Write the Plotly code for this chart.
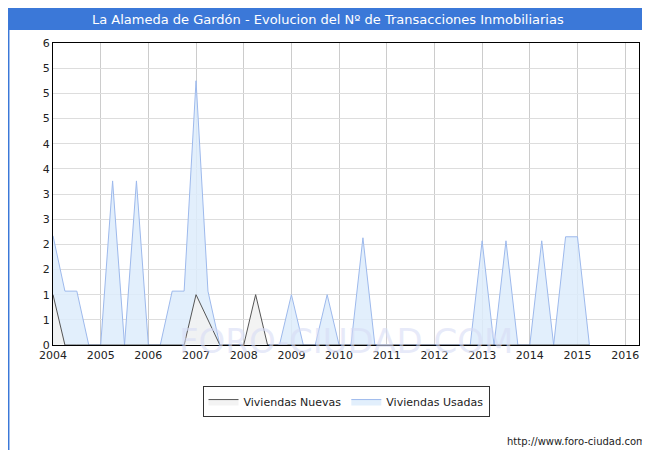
import plotly.graph_objects as go

quarters = [2004 + i * 0.25 for i in range(46)]  # 2004.0 .. 2015.25
usadas_pts = {2004.0: 2.17, 2004.25: 1.07, 2004.5: 1.07, 2005.25: 3.26, 2005.75: 3.26,
              2006.5: 1.07, 2006.75: 1.07, 2007.0: 5.25, 2007.25: 1.07, 2009.0: 1.0,
              2009.75: 1.0, 2010.5: 2.13, 2013.0: 2.07, 2013.5: 2.07, 2014.25: 2.07,
              2014.75: 2.15, 2015.0: 2.15}
nuevas_pts = {2004.0: 1.0, 2007.0: 1.0, 2007.25: 0.5, 2008.25: 1.0}
usadas = [usadas_pts.get(q, 0) for q in quarters]
nuevas = [nuevas_pts.get(q, 0) for q in quarters]
ytick_vals = [i * 0.5 for i in range(13)]
ytick_text = ["0", "1", "1", "2", "2", "3", "3", "4", "4", "5", "5", "5", "6"]
years = list(range(2004, 2017))

fig = go.Figure()
fig.add_trace(go.Scatter(x=quarters, y=usadas, mode="lines", fill="tozeroy",
                         name="Viviendas Usadas", line=dict(color="#9db9ec", width=1),
                         fillcolor="rgba(221,236,252,0.85)"))
fig.add_trace(go.Scatter(x=quarters, y=nuevas, mode="lines", fill="tozeroy",
                         name="Viviendas Nuevas", line=dict(color="#555555", width=1),
                         fillcolor="rgba(242,242,242,0.9)"))
fig.update_layout(
    width=650, height=450, plot_bgcolor="white", paper_bgcolor="white",
    margin=dict(l=45, r=19, t=35, b=113, autoexpand=False),
    font=dict(family="DejaVu Sans", size=11, color="#222"),
    showlegend=True, legend_traceorder="reversed",
    legend=dict(orientation="h", x=0.5, xanchor="center", y=-0.136, yanchor="top",
                bordercolor="#333", borderwidth=1, font=dict(size=11)),
    xaxis=dict(range=[2004, 2016.29], tickvals=years, showgrid=True, gridcolor="#cccccc",
               showline=True, linecolor="black", mirror=True, zeroline=False, ticks=""),
    yaxis=dict(range=[0, 6], tickvals=ytick_vals, ticktext=ytick_text, showgrid=True,
               gridcolor="#dddddd", showline=True, linecolor="black", mirror=True,
               zeroline=False),
    shapes=[
        dict(type="rect", xref="paper", yref="paper", x0=-0.077, x1=1.032, y0=1.043, y1=1.116,
             fillcolor="#3b78d8", line_width=0, layer="below"),
        dict(type="rect", xref="paper", yref="paper", x0=-0.076, x1=1.031, y0=-0.372, y1=1.116,
             line=dict(color="#3b78d8", width=2), fillcolor="rgba(0,0,0,0)"),
    ],
    annotations=[
        dict(text="La Alameda de Gardón - Evolucion del Nº de Transacciones Inmobiliarias",
             xref="paper", yref="paper", x=0.47, y=1.079, showarrow=False,
             font=dict(color="white", size=13), xanchor="center", yanchor="middle"),
        dict(text="FORO-CIUDAD.COM", xref="paper", yref="paper", x=0.5, y=-0.06,
             showarrow=False, font=dict(color="rgba(215,220,245,0.6)", size=34)),
        dict(text="http://www.foro-ciudad.com", xref="paper", yref="paper", x=1.015,
             y=-0.318, showarrow=False, xanchor="right", yanchor="middle", font=dict(size=10)),
    ],
)
fig.write_html("out.html")
